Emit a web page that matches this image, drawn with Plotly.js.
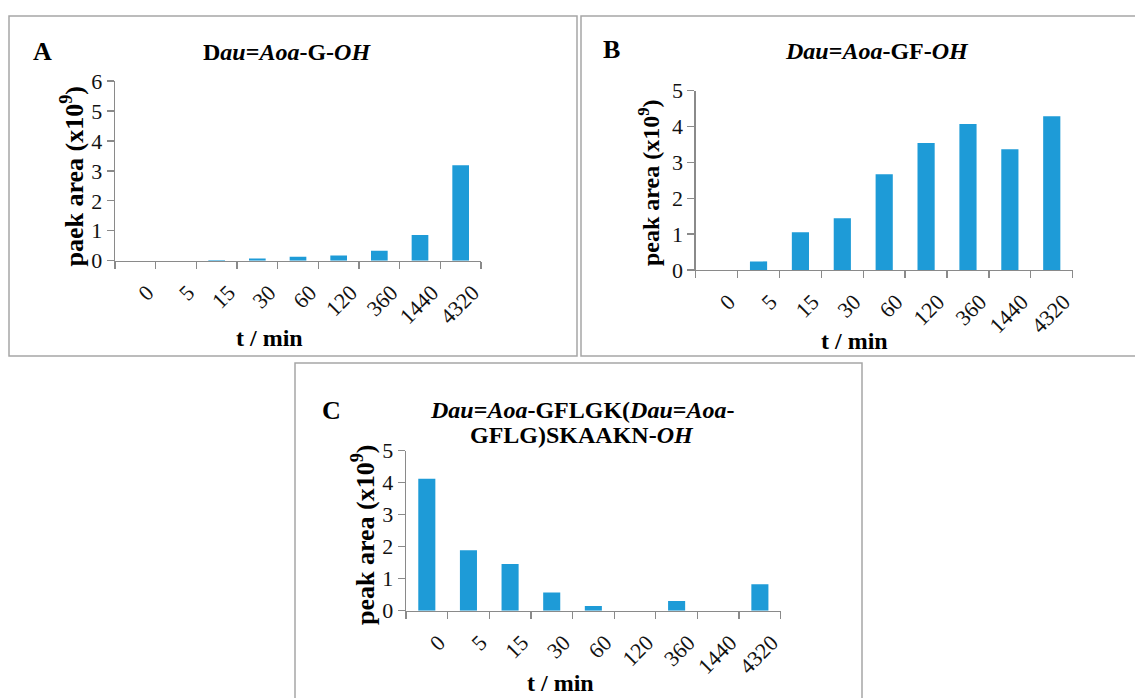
<!DOCTYPE html>
<html>
<head>
<meta charset="utf-8">
<script src="https://cdn.plot.ly/plotly-3.0.1.min.js"></script>
<style>html,body{margin:0;padding:0;background:#fff;}#chart{width:1135px;height:698px;}</style>
</head>
<body>
<div id="chart"></div>
<script>
const categories = ['0','5','15','30','60','120','360','1440','4320'];
const valuesA = [0, 0, 0.02, 0.07, 0.13, 0.17, 0.33, 0.86, 3.19];
const valuesB = [0, 0.24, 1.05, 1.44, 2.67, 3.54, 4.07, 3.37, 4.29];
const valuesC = [4.12, 1.89, 1.46, 0.57, 0.15, 0, 0.30, 0, 0.83];
const yTicksA = [0,1,2,3,4,5,6];
const yTicksBC = [0,1,2,3,4,5];

const W = 1135, H = 698;
const px = v => v / W;
const py = v => 1 - v / H;
const barColor = '#1e9bd7';
const axisColor = '#8a8a8a';
const serif = 'Liberation Serif';

function bar(vals, xa, ya) {
  return {type:'bar', x:categories, y:vals, xaxis:xa, yaxis:ya, width:0.41,
    marker:{color:barColor, line:{width:0}}, hoverinfo:'x+y', showlegend:false};
}
function xax(domain, anchor) {
  return {domain:domain, anchor:anchor, type:'category', showline:true, linecolor:axisColor, linewidth:1.3,
    ticks:'outside', tickson:'boundaries', ticklen:7, tickcolor:axisColor, tickwidth:1.3,
    tickangle:-45, ticklabelstandoff:9, ticklabelshift:12, showgrid:false, zeroline:false, fixedrange:true,
    tickfont:{family:serif, size:22, color:'#111'}};
}
function yax(domain, anchor, range, ticks) {
  return {domain:domain, anchor:anchor, range:range, tickvals:ticks, showline:true, linecolor:axisColor, linewidth:1.3,
    ticks:'outside', ticklen:7, tickcolor:axisColor, tickwidth:1.3, showgrid:false, zeroline:false, fixedrange:true,
    tickfont:{family:serif, size:22, color:'#111'}};
}
function ann(text, x, y, size, angle, yanchor) {
  return {text:text, x:px(x), y:py(y), xref:'paper', yref:'paper', showarrow:false,
    xanchor:'center', yanchor:yanchor||'middle', textangle:angle||0,
    font:{family:serif, size:size, color:'#000'}};
}
function box(x0,y0,x1,y1) {
  return {type:'rect', xref:'paper', yref:'paper', x0:px(x0), x1:px(x1), y0:py(y0), y1:py(y1),
    line:{color:'#a6a6a6', width:1.5}, fillcolor:'rgba(0,0,0,0)'};
}

const data = [bar(valuesA,'x','y'), bar(valuesB,'x2','y2'), bar(valuesC,'x3','y3')];

const layout = {
  width:W, height:H, margin:{l:0,r:0,t:0,b:0}, paper_bgcolor:'#fff', plot_bgcolor:'rgba(0,0,0,0)',
  bargap:0.59, showlegend:false,
  xaxis: xax([px(115), px(481)], 'y'),
  yaxis: yax([py(260.7), py(81)], 'x', [0,6], yTicksA),
  xaxis2: xax([px(695.7), px(1072.7)], 'y2'),
  yaxis2: yax([py(270), py(90.7)], 'x2', [0,5], yTicksBC),
  xaxis3: xax([px(406), px(780.7)], 'y3'),
  yaxis3: yax([py(610.7), py(450.7)], 'x3', [0,5], yTicksBC),
  shapes: [box(9,16,577,356), box(581,16,1140,356), box(295,363,862,702)],
  annotations: [
    ann('<b>A</b>', 42, 52, 26),
    ann('<b>B</b>', 611, 50, 26),
    ann('<b>C</b>', 331, 410, 26),
    ann('<b>D<i>au</i>=<i>Aoa</i>-G-<i>OH</i></b>', 287, 52, 24),
    ann('<b><i>Dau</i>=<i>Aoa</i>-GF-<i>OH</i></b>', 877, 51, 24),
    ann('<b><i>Dau</i>=<i>Aoa</i>-GFLGK(<i>Dau</i>=<i>Aoa</i>-</b>', 582, 410, 24),
    ann('<b>GFLG)SKAAKN-<i>OH</i></b>', 581.5, 435, 24),
    ann('<b>t / min</b>', 269, 338, 24),
    ann('<b>t / min</b>', 854, 341, 24),
    ann('<b>t / min</b>', 560, 698, 24, 0, 'bottom'),
    ann('<b>paek area (x10<sup>9</sup>)</b>', 73.5, 176, 26, -90),
    ann('<b>peak area (x10<sup>9</sup>)</b>', 649, 183, 24, -90),
    ann('<b>peak area (x10<sup>9</sup>)</b>', 363, 535, 26, -90)
  ]
};

Plotly.newPlot('chart', data, layout, {displayModeBar:false, staticPlot:true});
</script>
</body>
</html>
